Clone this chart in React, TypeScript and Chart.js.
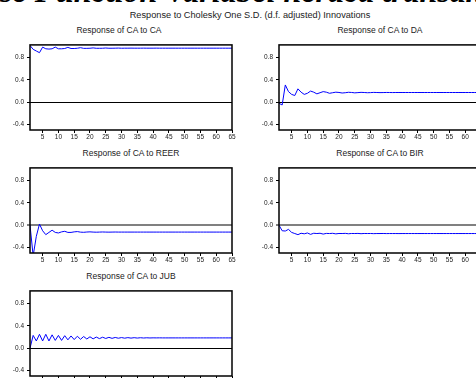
import React, { useEffect, useRef } from "react";
import Chart from "chart.js/auto";

const periods: number[] = Array.from({ length: 65 }, (_, i) => i + 1);
const xTickValues = [5, 10, 15, 20, 25, 30, 35, 40, 45, 50, 55, 60, 65];
const yTickValues = [-0.4, 0.0, 0.4, 0.8];

const caToCa = [
  1.02, 0.95, 0.92, 0.89, 0.99, 0.96, 0.955, 0.96, 0.99, 0.96,
  0.96, 0.965, 0.985, 0.965, 0.965, 0.97, 0.98, 0.968, 0.968, 0.97,
  0.976, 0.969, 0.969, 0.97, 0.974, 0.97, 0.97, 0.971, 0.973, 0.97,
  0.971, 0.971, 0.972, 0.971, 0.971, 0.971, 0.972, 0.971, 0.971, 0.971,
  0.972, 0.971, 0.971, 0.971, 0.971, 0.971, 0.971, 0.971, 0.971, 0.971,
  0.971, 0.971, 0.971, 0.971, 0.971, 0.971, 0.971, 0.971, 0.971, 0.971,
  0.971, 0.971, 0.971, 0.971, 0.971,
];
const caToDa = [
  -0.02, -0.05, 0.31, 0.19, 0.14, 0.12, 0.24, 0.18, 0.14, 0.16,
  0.2, 0.18, 0.15, 0.17, 0.19, 0.18, 0.16, 0.17, 0.18, 0.175,
  0.165, 0.17, 0.178, 0.175, 0.168, 0.172, 0.177, 0.174, 0.17, 0.172,
  0.176, 0.174, 0.172, 0.173, 0.175, 0.174, 0.173, 0.174, 0.174, 0.174,
  0.174, 0.174, 0.174, 0.174, 0.174, 0.174, 0.174, 0.174, 0.174, 0.174,
  0.174, 0.174, 0.174, 0.174, 0.174, 0.174, 0.174, 0.174, 0.174, 0.174,
  0.174, 0.174, 0.174, 0.174, 0.174,
];
const caToReer = [
  0.0, -0.55, -0.2, 0.02, -0.1, -0.17, -0.13, -0.09, -0.13, -0.14,
  -0.12, -0.11, -0.13, -0.13, -0.12, -0.115, -0.125, -0.128, -0.123, -0.12,
  -0.124, -0.126, -0.124, -0.122, -0.124, -0.125, -0.124, -0.123, -0.124, -0.124,
  -0.124, -0.124, -0.124, -0.124, -0.124, -0.124, -0.124, -0.124, -0.124, -0.124,
  -0.124, -0.124, -0.124, -0.124, -0.124, -0.124, -0.124, -0.124, -0.124, -0.124,
  -0.124, -0.124, -0.124, -0.124, -0.124, -0.124, -0.124, -0.124, -0.124, -0.124,
  -0.124, -0.124, -0.124, -0.124, -0.124,
];
const caToBir = [
  0.0, -0.1, -0.105, -0.075, -0.13, -0.15, -0.17, -0.145, -0.155, -0.14,
  -0.165, -0.145, -0.15, -0.145, -0.16, -0.148, -0.15, -0.146, -0.156, -0.149,
  -0.15, -0.147, -0.154, -0.149, -0.15, -0.148, -0.153, -0.149, -0.15, -0.149,
  -0.152, -0.15, -0.15, -0.149, -0.151, -0.15, -0.15, -0.15, -0.151, -0.15,
  -0.15, -0.15, -0.15, -0.15, -0.15, -0.15, -0.15, -0.15, -0.15, -0.15,
  -0.15, -0.15, -0.15, -0.15, -0.15, -0.15, -0.15, -0.15, -0.15, -0.15,
  -0.15, -0.15, -0.15, -0.15, -0.15,
];
const caToJub = [
  0.0, 0.23, 0.13, 0.25, 0.13, 0.25, 0.13, 0.24, 0.14, 0.23,
  0.14, 0.225, 0.15, 0.22, 0.155, 0.215, 0.16, 0.21, 0.165, 0.205,
  0.168, 0.2, 0.172, 0.197, 0.175, 0.195, 0.177, 0.193, 0.179, 0.191,
  0.18, 0.19, 0.181, 0.189, 0.182, 0.188, 0.183, 0.187, 0.184, 0.186,
  0.185, 0.186, 0.185, 0.185, 0.185, 0.185, 0.185, 0.185, 0.185, 0.185,
  0.185, 0.185, 0.185, 0.185, 0.185, 0.185, 0.185, 0.185, 0.185, 0.185,
  0.185, 0.185, 0.185, 0.185, 0.185,
];

const panelTitles = [
  "Response of CA to CA",
  "Response of CA to DA",
  "Response of CA to REER",
  "Response of CA to BIR",
  "Response of CA to JUB",
];
const mainTitle = "Response to Cholesky One S.D. (d.f. adjusted) Innovations";
const headingHidden = "Impulse Respon";
const headingVisible = "se Function Variabel neraca transaksi berjalan";

const BOX_W = 202;
const BOX_H = 88;
const Y_AXIS_W = 30;
const X_AXIS_H = 14;
const PAD_TOP = 4;
const PAD_RIGHT = 8;
const CANVAS_W = Y_AXIS_W + BOX_W + PAD_RIGHT;
const CANVAS_H = PAD_TOP + BOX_H + X_AXIS_H;

const boxPlugin = {
  id: "boxFrame",
  afterDraw(chart: any) {
    const { ctx, chartArea: a } = chart;
    ctx.save();
    ctx.strokeStyle = "#000";
    ctx.lineWidth = 1.5;
    ctx.strokeRect(a.left, a.top, a.right - a.left, a.bottom - a.top);
    ctx.restore();
  },
};

type PanelProps = {
  title: string;
  values: number[];
  bx: number;
  by: number;
  zeroColor: string;
  zeroWidth: number;
  titleDx?: number;
};

function Panel({ title, values, bx, by, zeroColor, zeroWidth, titleDx = 0 }: PanelProps) {
  const ref = useRef<HTMLCanvasElement | null>(null);
  useEffect(() => {
    if (!ref.current) return;
    const tickFont = { family: "'Liberation Sans', Arial, sans-serif", size: 6.5 };
    const chart = new Chart(ref.current, {
      type: "line",
      data: {
        labels: periods,
        datasets: [
          {
            data: values,
            borderColor: "#0000ff",
            borderWidth: 1,
            pointRadius: 0,
            tension: 0,
            fill: false,
          },
        ],
      },
      options: {
        animation: false,
        responsive: false,
        maintainAspectRatio: false,
        events: [],
        layout: { padding: { top: PAD_TOP, right: PAD_RIGHT, bottom: 0, left: 0 } },
        plugins: {
          legend: { display: false },
          tooltip: { enabled: false },
          title: { display: false },
        },
        scales: {
          x: {
            type: "linear",
            min: 1,
            max: 65,
            afterBuildTicks: (s: any) => {
              s.ticks = xTickValues.map((v) => ({ value: v }));
            },
            afterFit: (s: any) => {
              s.height = X_AXIS_H;
            },
            grid: {
              drawOnChartArea: false,
              drawTicks: true,
              tickLength: 3,
              tickColor: "#000",
              tickWidth: 1,
            },
            border: { display: false },
            ticks: {
              autoSkip: false,
              maxRotation: 0,
              minRotation: 0,
              padding: 0,
              color: "#222",
              font: tickFont,
            },
          },
          y: {
            type: "linear",
            min: -0.5,
            max: 1.03,
            afterBuildTicks: (s: any) => {
              s.ticks = yTickValues.map((v) => ({ value: v }));
            },
            afterFit: (s: any) => {
              s.width = Y_AXIS_W;
            },
            grid: {
              drawOnChartArea: true,
              color: (c: any) => (c.tick && c.tick.value === 0 ? zeroColor : "rgba(0,0,0,0)"),
              lineWidth: (c: any) => (c.tick && c.tick.value === 0 ? zeroWidth : 1),
              drawTicks: true,
              tickLength: 3,
              tickColor: "#000",
              tickWidth: 1,
            },
            border: { display: false },
            ticks: {
              padding: 3,
              color: "#222",
              font: tickFont,
              callback: (v: any) => Number(v).toFixed(1),
            },
          },
        },
      },
      plugins: [boxPlugin],
    } as any);
    return () => chart.destroy();
  }, [values, zeroColor, zeroWidth]);

  return (
    <>
      <div
        style={{
          position: "absolute",
          left: bx + titleDx + BOX_W / 2 - 200,
          width: 400,
          top: by - 17,
          textAlign: "center",
          font: "8.5px 'Liberation Sans', Arial, sans-serif",
          color: "#222",
          whiteSpace: "nowrap",
          lineHeight: "10px",
        }}
      >
        {title}
      </div>
      <canvas
        ref={ref}
        width={CANVAS_W}
        height={CANVAS_H}
        style={{
          position: "absolute",
          left: bx - Y_AXIS_W,
          top: by - PAD_TOP,
          width: CANVAS_W,
          height: CANVAS_H,
        }}
      />
    </>
  );
}

export default function App() {
  return (
    <div
      style={{
        position: "fixed",
        left: 0,
        top: 0,
        width: 476,
        height: 378,
        overflow: "hidden",
        background: "#fff",
      }}
    >
      <div
        style={{
          position: "absolute",
          left: 0,
          top: -25,
          whiteSpace: "nowrap",
          font: "italic bold 32px 'Liberation Serif', 'Times New Roman', serif",
          lineHeight: "32px",
          color: "#000",
        }}
      >
        <span style={{ position: "absolute", right: "100%" }}>{headingHidden}</span>
        {headingVisible}
      </div>
      <div
        style={{
          position: "absolute",
          left: 50,
          width: 400,
          top: 10,
          textAlign: "center",
          font: "9.2px 'Liberation Sans', Arial, sans-serif",
          color: "#222",
          lineHeight: "11px",
          whiteSpace: "nowrap",
        }}
      >
        {mainTitle}
      </div>
      <Panel title={panelTitles[0]} values={caToCa} bx={30} by={42} zeroColor="#000" zeroWidth={1} titleDx={-12} />
      <Panel title={panelTitles[1]} values={caToDa} bx={279} by={42} zeroColor="#000" zeroWidth={1} />
      <Panel title={panelTitles[2]} values={caToReer} bx={30} by={165} zeroColor="#808080" zeroWidth={2} />
      <Panel title={panelTitles[3]} values={caToBir} bx={279} by={165} zeroColor="#808080" zeroWidth={2} />
      <Panel title={panelTitles[4]} values={caToJub} bx={30} by={288} zeroColor="#000" zeroWidth={1} />
    </div>
  );
}
